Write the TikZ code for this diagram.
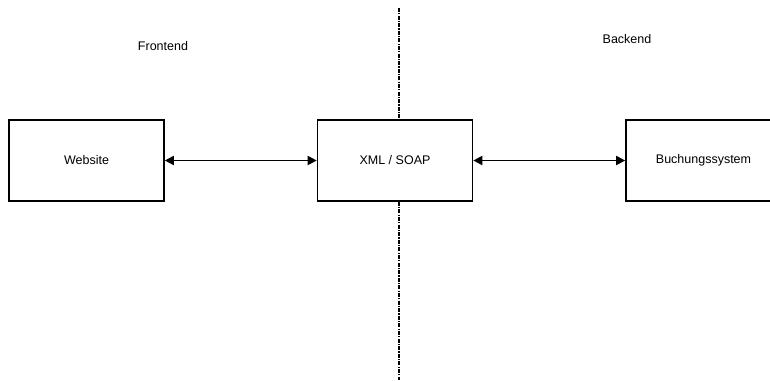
\documentclass[tikz,border=0pt]{standalone}
\usepackage{fontspec}
\setmainfont{Liberation Sans}
\usetikzlibrary{arrows.meta}
\begin{document}
\begin{tikzpicture}[x=1pt,y=-1pt,
  box/.style={draw=black, line width=1.6pt, minimum width=155pt, minimum height=81pt, inner sep=0pt, font=\fontsize{12.5}{14}\selectfont},
  lbl/.style={font=\fontsize{12.5}{14}\selectfont, inner sep=0pt},
  conn/.style={line width=1.8pt, {Triangle[length=9pt,width=9pt]}-{Triangle[length=9pt,width=9pt]}},
  divider/.style={line width=1.5pt, dash pattern=on 4pt off 1.2pt on 1.2pt off 1.2pt}]
\useasboundingbox (0,0) rectangle (770,380);
\clip (0,0) rectangle (770,380);
\fill[white] (0,0) rectangle (770,380);
\coordinate (dtop) at (399,8);
\coordinate (dbot) at (399,380);
\node[box] (web) at (86.5,160.5) {Website};
\node[box] (xml) at (395,160.5) {XML / SOAP};
\node[box] (buch) at (703.5,160.5) {Buchungssystem};
\node[lbl] (fe) at (163,46) {Frontend};
\node[lbl] (be) at (627,39.5) {Backend};
\draw[divider] (dtop) -- (xml.north -| dtop);
\draw[divider] (xml.south -| dtop) -- (dbot);
\draw[conn] (web.east) -- (xml.west);
\draw[conn] (xml.east) -- (buch.west);
\end{tikzpicture}
\end{document}
